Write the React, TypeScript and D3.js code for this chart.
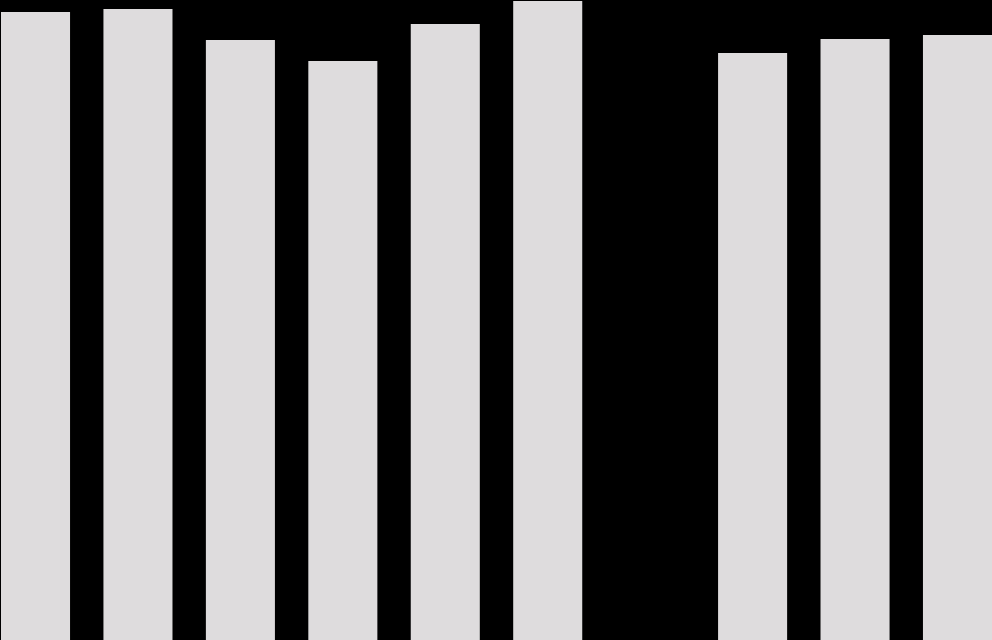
// React
import { useEffect, useRef } from 'react';

// Installed Packages
import * as d3 from 'd3';

// Chart data (one slot has no value)
const categories = ['1', '2', '3', '4', '5', '6', '7', '8', '9', '10'];
const values: (number | null)[] = [628, 631, 600, 579, 616, 639, null, 587, 601, 605];
const valueMax = 640;

const WIDTH = 992;
const HEIGHT = 640;

export default function App() {

    let ref = useRef<SVGSVGElement>(null);

    useEffect(() => {
        document.body.style.margin = '0';
        document.body.style.background = '#000';

        const svg = d3.select(ref.current);
        svg.selectAll('*').remove();

        svg.append('rect')
            .attr('width', WIDTH)
            .attr('height', HEIGHT)
            .attr('fill', '#000');

        let x = d3.scaleBand<string>()
            .domain(categories)
            .range([1, WIDTH])
            .paddingInner(0.326)
            .paddingOuter(0);

        let y = d3.scaleLinear().domain([0, valueMax]).range([HEIGHT, 0]);

        let rows = categories
            .map((c, i) => ({ c, v: values[i] }))
            .filter(d => d.v !== null) as { c: string, v: number }[];

        svg.selectAll('rect.bar')
            .data(rows)
            .join('rect')
            .attr('class', 'bar')
            .attr('x', d => x(d.c)!)
            .attr('y', d => y(d.v))
            .attr('width', x.bandwidth())
            .attr('height', d => HEIGHT - y(d.v))
            .attr('fill', '#dedcdd');

    }, [])

    return <svg ref={ref} width={WIDTH} height={HEIGHT} style={{ display: 'block' }}></svg>
}
